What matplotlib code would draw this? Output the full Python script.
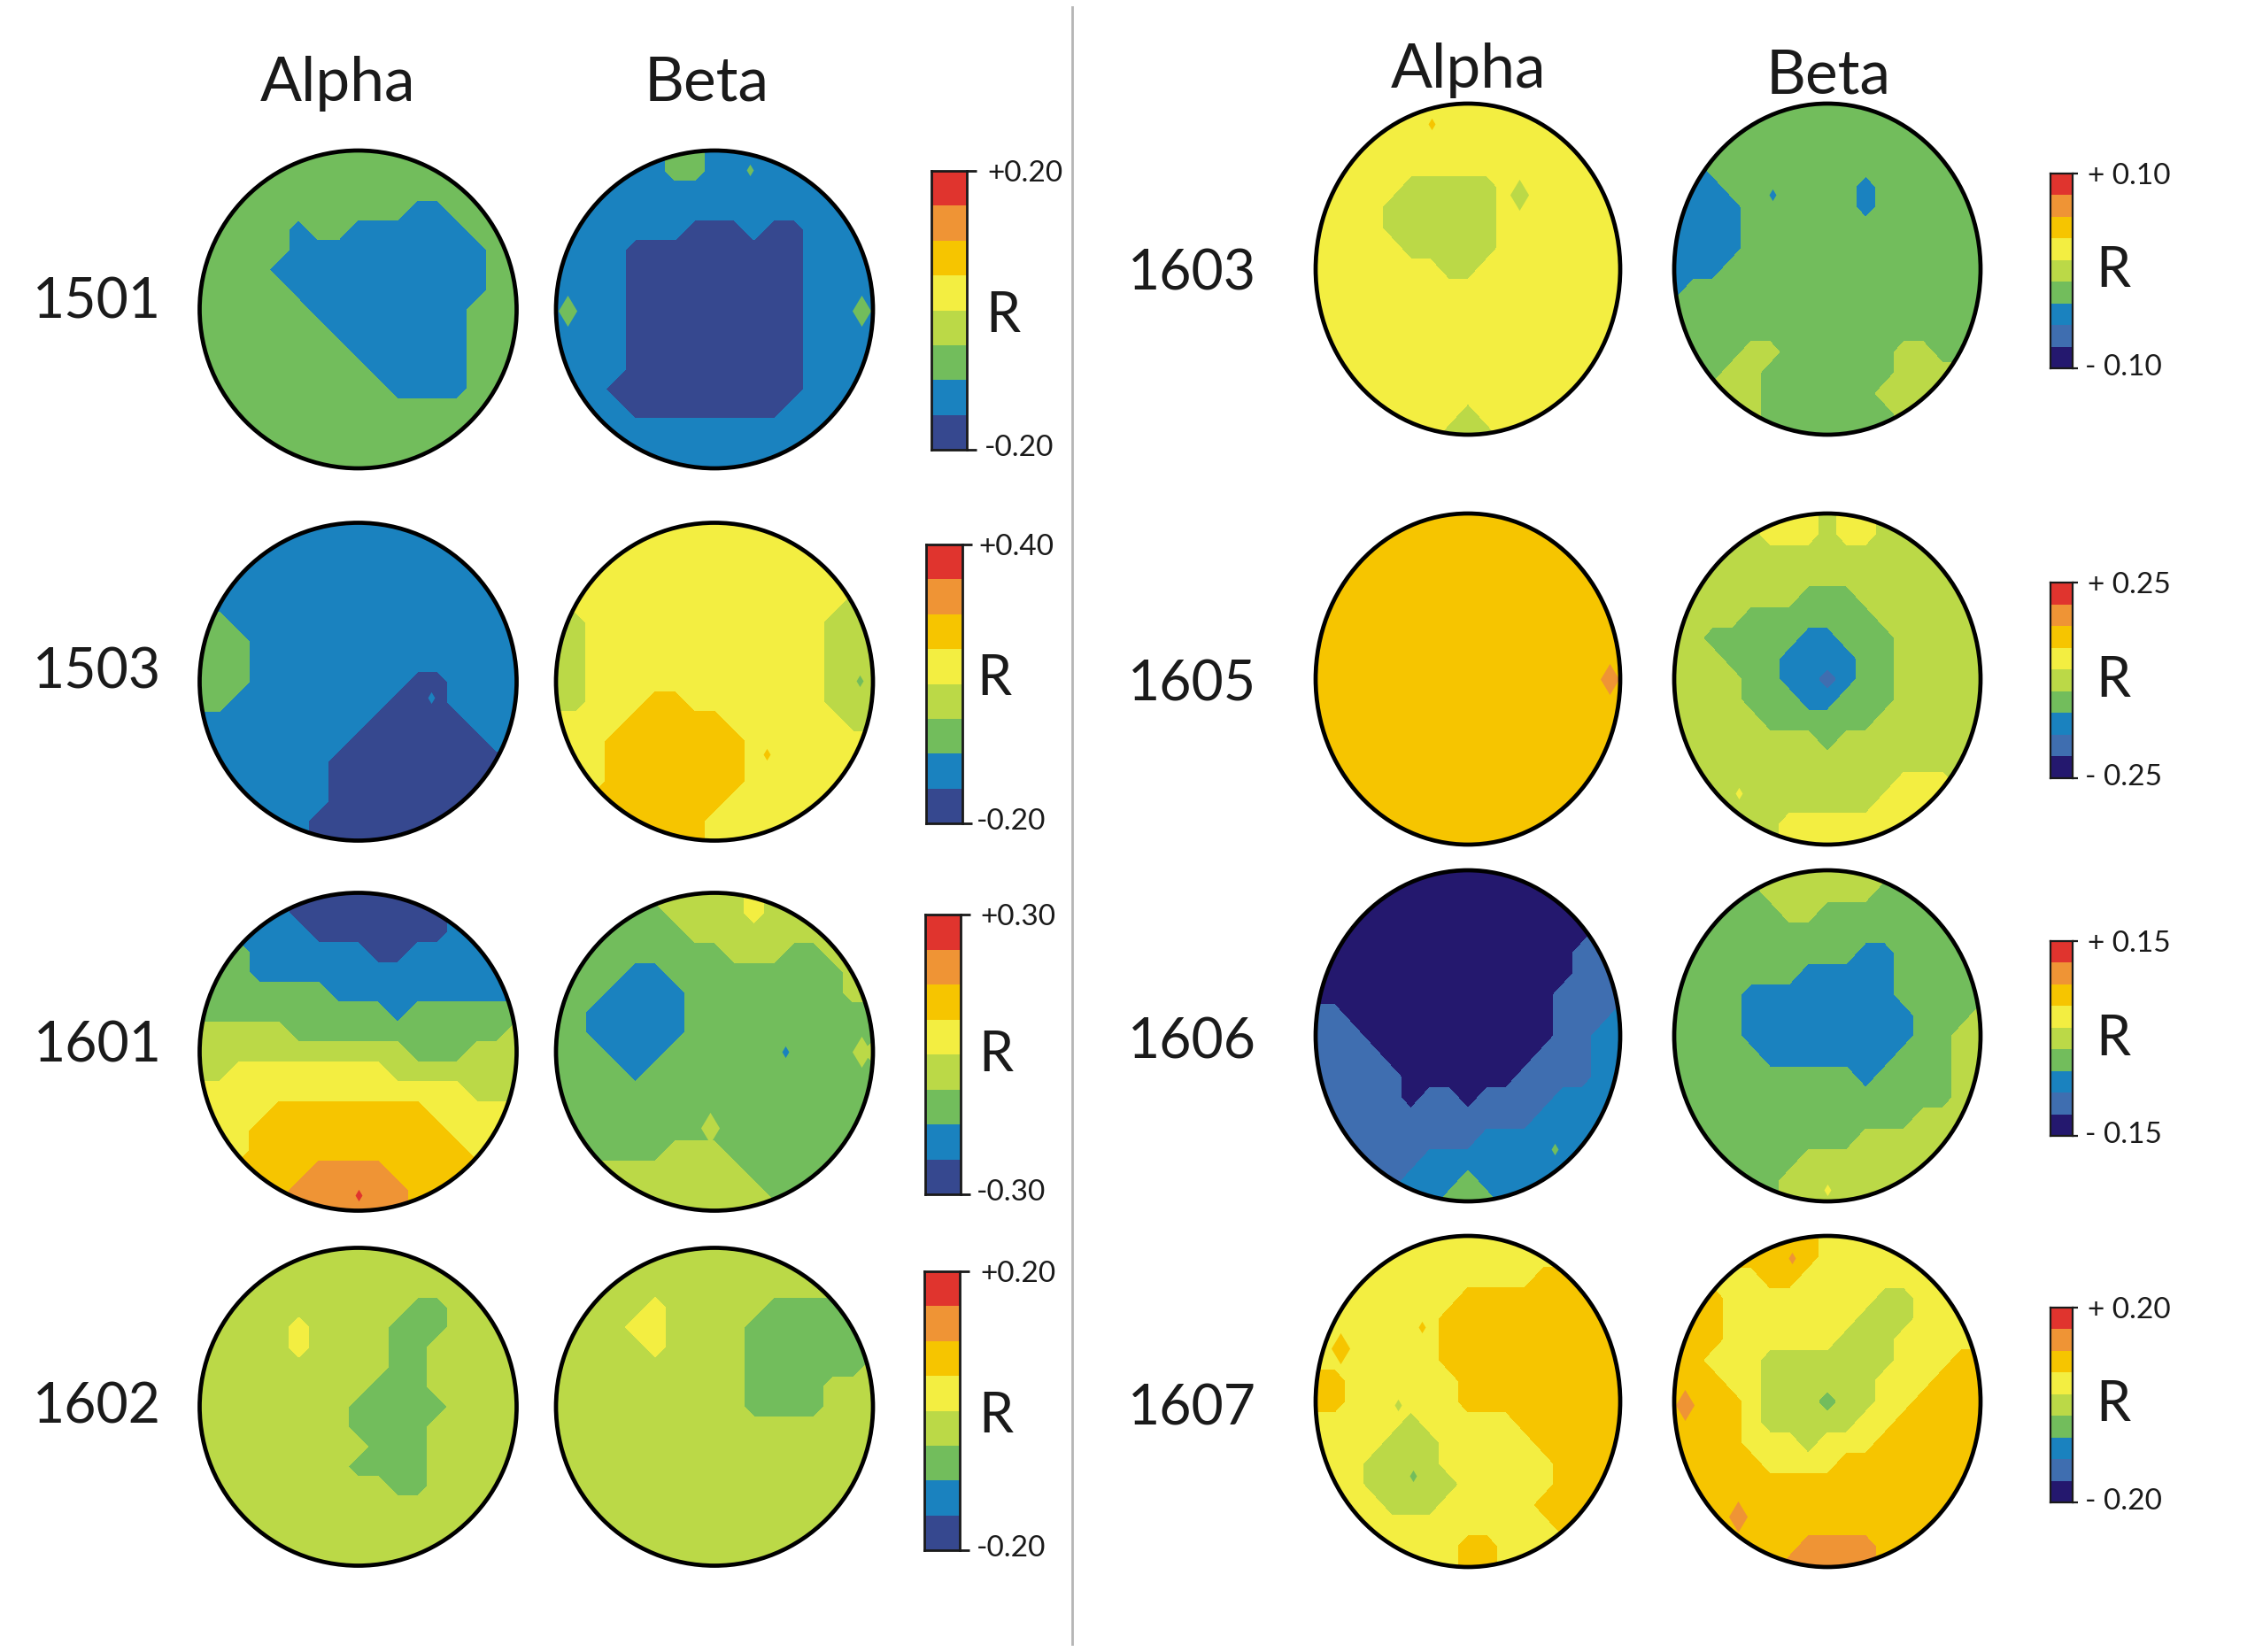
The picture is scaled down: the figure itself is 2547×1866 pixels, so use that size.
import matplotlib
matplotlib.use('Agg')
import matplotlib.pyplot as plt
import numpy as np
from matplotlib.colors import ListedColormap
from matplotlib.patches import Ellipse

plt.rcParams['font.family'] = ['Lato', 'DejaVu Sans']

W, H = 2547, 1866

# band index read off each disk on a 17x17 grid, top row first
# 0 navy, 1 dark blue, 2 blue, 3 green, 4 lime, 5 yellow, 6 amber, 7 orange, 8 red
a1501 = ["33333333333333333"] * 3 + [
    "33333333333223333", "33333233222222333", "33333222222222233", "33332222222222233",
    "33333222222222233", "33333322222222333", "33333332222222333", "33333333222222333",
    "33333333322222333", "33333333332222333"] + ["33333333333333333"] * 4
b1501 = ["22222233222222222", "22222233222222222", "22222222222222222", "22222222222222222",
    "22222221112112222", "22221111111112222", "22221111111112222", "22221111111112222",
    "22221111111112222", "22221111111112222", "22221111111112222", "22221111111112222",
    "22211111111112222", "22221111111122222", "22222222222222222", "22222222222222222",
    "22222222222222222"]
a1503 = ["22222222222222222"] * 5 + ["33222222222222222", "33322222222222222", "33322222222222222",
    "33322222222112222", "33222222221112222", "22222222211111222", "22222222111111122",
    "22222221111111111", "22222221111111111", "22222221111111111", "22222211111111111",
    "22222211111111111"]
b1503 = ["55555555555555555"] * 4 + ["55555555555555544", "44555555555555444", "44555555555555444",
    "44555555555555444", "44555555555555444", "44555665555555444", "55556666655555544",
    "55566666665555555", "55566666665555555", "55566666665555555", "55666666655555555",
    "55666666555555555", "55666666555555555"]
a1601 = ["22222111111112222", "22222111111112222", "22222211111112222", "33322222211222222",
    "33322222222222222", "33333332222222222", "33333333332333333", "44444333333333334",
    "44444444444333444", "44555555554444444", "55555555555555444", "55556666666655555",
    "55566666666665555", "55566666666666555", "66666677776666666", "66666777777666666",
    "66666777777666666"]
b1601 = ["33333444445444444", "33333344445444444", "33333334444444444", "33333333344433444",
    "33332233333333344", "33322223333333344", "33222223333333333", "33222223333333333",
    "33322233333333334", "33332333333333333", "33333333333333333", "33333333333333333",
    "33333333333333333", "33333344433333333", "44444444443333333", "44444444444333333",
    "44444444444433333"]
a1602 = ["44444444444444444"] * 3 + ["44444444444334444", "44444544443334444", "44444544443344444",
    "44444444443344444", "44444444433344444", "44444444333334444", "44444444333344444",
    "44444444433344444", "44444444333344444", "44444444443344444"] + ["44444444444444444"] * 4
b1602 = ["44444444444444444"] * 3 + ["44444544444333333", "44445544443333333", "44444544443333333",
    "44444444443333334", "44444444443333444", "44444444443333444"] + ["44444444444444444"] * 8
a1603 = ["55555555555555555"] * 4 + ["55555444445555555", "55554444445555555", "55554444445555555",
    "55555444445555555", "55555554455555555"] + ["55555555555555555"] * 6 + [
    "55555555455555555", "55555554445555555"]
b1603 = ["33333333333333333"] * 3 + ["22333333333333333", "22233333332333333", "22223333332333333",
    "22223333333333333", "22223333333333333", "22233333333333333", "23333333333333333",
    "33333333333333333", "33333333333333333", "33334433333344333", "33344333333344444",
    "44444333333444444", "44444333333344444", "44444333333344444"]
a1605 = ["66666666666666666"] * 17
b1605 = ["44444555455444444", "44444555455444444", "44444444444444444", "44444444444444444",
    "44444443334444444", "44443333333444444", "44333332233344444", "44433322223344444",
    "44443322123344444", "44443332233344444", "44444333333444444", "44444444344444444",
    "44444444444444444", "44444444444455544", "44444444444555555", "44444455555555555",
    "44444455555555555"]
a1606 = ["00000000000000000"] * 3 + ["00000000000000011", "00000000000000111", "00000000000000111",
    "00000000000001111", "11000000000001112", "11100000000001122", "11110000000011122",
    "11111000000111122", "11111011011112222", "11111111111122222", "11111111122222222",
    "11111122222222222", "11111222322222222", "11111223332222222"]
b1606 = ["33334444444433333", "33333444444333333", "33333344333333333", "33333333333333333",
    "33333333332233333", "33333332222233333", "33332222222233333", "33332222222223334",
    "33332222222223344", "33333222222233344", "33333333332333344", "33333333333333344",
    "33333333333334444", "33333333334444444", "33333334444444444", "33333344444444444",
    "33333344444444444"]
a1607 = ["55555555555555555"] * 2 + ["55555555555566666", "55555555666666666", "55555556666666666",
    "55555556666666666", "55555556666666666", "66555555666666666", "66555555666666666",
    "55555455555666666", "55554445555566666", "55544445555556666", "55544444555556666",
    "55554445555566666", "55555555555556666", "55555555665555555", "55555555665555555"]
b1607 = ["66666666555555555", "66666666555555555", "55555665555555555", "66655555555445555",
    "66655555554445555", "66655555544455555", "66555444444455566", "66655444444555666",
    "66665444344556666", "66665444445566666", "66665554555666666", "66666555566666666",
    "66666666666666666", "66666666666666666", "66666666666666666", "66666667777666666",
    "66666677777666666"]

# small marks too small for the grid: x, y (disk units), band
spots = {
    'b1501': [(0.225, 0.875, 3)],
    'a1503': [(0.46, -0.10, 2)],
    'b1503': [(0.327, -0.456, 6), (0.915, 0.005, 3)],
    'a1601': [(0.0, -0.90, 8)],
    'b1601': [(0.446, 0.0, 2)],
    'a1603': [(-0.237, 0.875, 6)],
    'b1603': [(-0.36, 0.45, 2)],
    'b1605': [(-0.58, -0.6875, 5)],
    'a1606': [(0.57, -0.683, 3)],
    'b1606': [(0.0, -0.93, 5)],
    'a1607': [(-0.46, -0.02, 4), (-0.36, -0.45, 3), (-0.30, 0.45, 6)],
    'b1607': [(-0.23, 0.866, 7)],
}
big_spots = {
    'b1501': [(-0.93, -0.01, 3), (0.93, -0.01, 3)],
    'b1601': [(-0.026, -0.478, 4), (0.93, 0.0, 4)],
    'a1603': [(0.34, 0.45, 4)],
    'a1605': [(0.93, 0.0, 7)],
    'a1607': [(-0.84, 0.32, 6)],
    'b1607': [(-0.585, -0.696, 7), (-0.93, -0.02, 7)],
}

left_colors = ['#24186e', '#36488f', '#1a82bf', '#72bd5c', '#bbd947', '#f3ee41', '#f6c500', '#ef9435', '#e0342e']
right_colors = ['#24186e', '#3f6eb0', '#1a82bf', '#72bd5c', '#bbd947', '#f3ee41', '#f6c500', '#ef9435', '#e0342e']
left_bands = [1, 2, 3, 4, 5, 6, 7, 8]
right_bands = [0, 1, 2, 3, 4, 5, 6, 7, 8]

left_names = ['1501', '1503', '1601', '1602']
left_top = ['+0.20', '+0.40', '+0.30', '+0.20']
left_bottom = ['-0.20', '-0.20', '-0.30', '-0.20']
right_names = ['1603', '1605', '1606', '1607']
right_top = ['+ 0.10', '+ 0.25', '+ 0.15', '+ 0.20']
right_bottom = ['- 0.10', '- 0.25', '- 0.15', '- 0.20']

alpha_maps = {'1501': a1501, '1503': a1503, '1601': a1601, '1602': a1602,
              '1603': a1603, '1605': a1605, '1606': a1606, '1607': a1607}
beta_maps = {'1501': b1501, '1503': b1503, '1601': b1601, '1602': b1602,
             '1603': b1603, '1605': b1605, '1606': b1606, '1607': b1607}

fig = plt.figure(figsize=(W / 100, H / 100), dpi=100, facecolor='white')


def px_axes(x0, y0, x1, y1):
    return fig.add_axes([x0 / W, 1 - y1 / H, (x1 - x0) / W, (y1 - y0) / H])


def label(x, y, s, size, ha='left'):
    fig.text(x / W, 1 - y / H, s, fontsize=size, ha=ha, va='baseline', color='#1a1a1a')


def draw_disk(name, rows, cx, cy, rx, ry, colors):
    ax = px_axes(cx - rx, cy - ry, cx + rx, cy + ry)
    z = np.array([[int(c) for c in row] for row in rows], dtype=float)[::-1]
    grid = np.linspace(-1, 1, z.shape[0])
    cs = ax.contourf(grid, grid, z, levels=np.arange(-0.5, 9, 1), cmap=ListedColormap(colors))
    border = Ellipse((0, 0), 2, 2, transform=ax.transData, fc='none', ec='black', lw=3.4, zorder=5, clip_on=False)
    cs.set_clip_path(border)
    ax.add_patch(border)
    for group, size in ((spots, 45), (big_spots, 320)):
        for x, y, band in group.get(name, []):
            ax.scatter([x], [y], s=size, marker='d', color=colors[band], linewidths=0, zorder=4, clip_path=border)
    ax.set_xlim(-1, 1)
    ax.set_ylim(-1, 1)
    ax.axis('off')


def draw_bar(bands, colors, x0, y0, x1, y1, tick_px, lw):
    ax = px_axes(x0, y0, x1, y1)
    ax.pcolormesh([0, 1], np.arange(len(bands) + 1), np.array(bands)[:, None],
                  cmap=ListedColormap(colors), vmin=-0.5, vmax=8.5)
    ax.set_xticks([])
    ax.set_yticks([0, len(bands)])
    ax.set_yticklabels([])
    ax.yaxis.tick_right()
    ax.tick_params(axis='y', length=tick_px * 0.72, width=lw, color='#1a1a1a')
    for sp in ax.spines.values():
        sp.set_linewidth(lw)
        sp.set_color('#1a1a1a')


# left half
left_y = [349.5, 770, 1188, 1589]
left_bar_x = [(1052, 1092), (1046, 1087), (1045, 1085), (1044, 1084)]
left_bar_y = [(193, 508), (615, 930), (1033, 1349), (1436, 1751)]
left_name_x = [110, 109, 110, 109]
left_name_base = [359, 777, 1200, 1607]
left_r_x = [1113, 1103, 1105, 1105]
left_r_base = [375, 785, 1210, 1618]
left_top_x = [1115, 1105, 1107, 1107]
left_bottom_x = [1112, 1103, 1103, 1103]

for i, name in enumerate(left_names):
    draw_disk('a' + name, alpha_maps[name], 404.5, left_y[i], 179, 179.5, left_colors)
    draw_disk('b' + name, beta_maps[name], 807, left_y[i], 179, 179.5, left_colors)
    draw_bar(left_bands, left_colors, left_bar_x[i][0], left_bar_y[i][0], left_bar_x[i][1], left_bar_y[i][1], 11, 2.0)
    label(left_name_x[i], left_name_base[i], name, 45, ha='center')
    label(left_r_x[i], left_r_base[i], 'R', 45)
    label(left_top_x[i], left_bar_y[i][0] + 12, left_top[i], 24)
    label(left_bottom_x[i], left_bar_y[i][1] + 7, left_bottom[i], 24)

# right half
right_y = [304, 767, 1170, 1583]
right_bar_y = [(196, 416), (658, 879), (1063, 1283), (1477, 1697)]
right_name_base = [328, 791, 1196, 1609]
right_r_base = [324, 787, 1192, 1605]

for i, name in enumerate(right_names):
    draw_disk('a' + name, alpha_maps[name], 1658, right_y[i], 172, 187, right_colors)
    draw_disk('b' + name, beta_maps[name], 2064, right_y[i], 173, 187, right_colors)
    draw_bar(right_bands, right_colors, 2316, right_bar_y[i][0], 2341, right_bar_y[i][1], 6, 1.6)
    label(1346, right_name_base[i], name, 45, ha='center')
    label(2367, right_r_base[i], 'R', 45)
    label(2358, right_bar_y[i][0] + 12, right_top[i], 24)
    label(2355, right_bar_y[i][1] + 8, right_bottom[i], 24)

label(381.5, 114, 'Alpha', 50, ha='center')
label(798, 114, 'Beta', 50, ha='center')
label(1659, 99, 'Alpha', 50, ha='center')
label(2065, 105, 'Beta', 50, ha='center')

# divider between the two halves
fig.add_artist(plt.Line2D([1211 / W, 1211 / W], [1 - 8 / H, 1 - 1857 / H], color='#b5b5b5', lw=2))

fig.savefig('out.png', dpi=100, facecolor='white')
